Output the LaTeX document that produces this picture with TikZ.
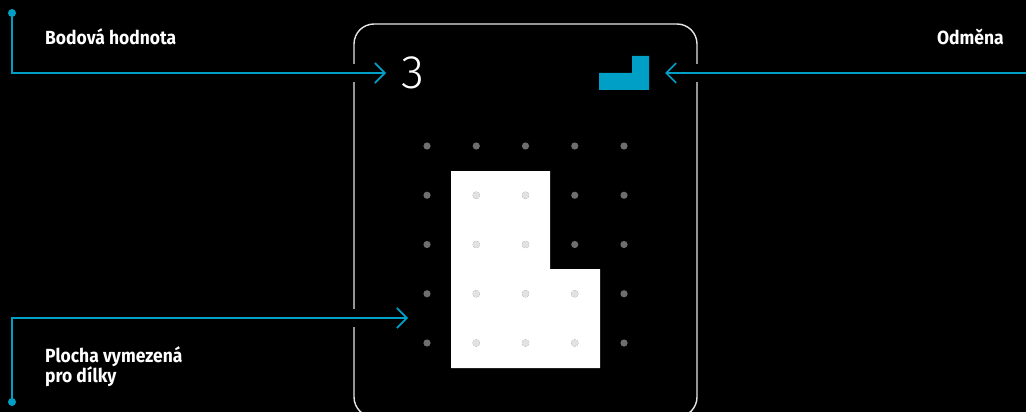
\documentclass[tikz,border=0pt]{standalone}
\usepackage{fontspec}
\setmainfont{Fira Sans}
\newfontfamily\notefont[FakeStretch=0.92]{Fira Sans}
\newfontfamily\scorefont{Fira Sans Light}
\usetikzlibrary{arrows.meta}
\definecolor{pointer}{RGB}{0,160,198}
\definecolor{dotdark}{RGB}{110,110,110}
\definecolor{dotlight}{RGB}{226,226,226}
\definecolor{cardline}{RGB}{230,230,230}

\begin{document}
\begin{tikzpicture}[x=1pt,y=-1pt,
  callout/.style={draw=pointer,line width=1.6pt,
    -{Straight Barb[length=10pt,width=20pt,line width=1.6pt]},
    preaction={draw=black,line width=18pt,-}},
  notetext/.style={text=white,inner sep=0pt,
    font=\notefont\bfseries\fontsize{19}{19}\selectfont},
  anchordot/.style={fill=pointer}]
  % background and page
  \fill[black] (0,0) rectangle (1026,412);
  \useasboundingbox (0,0) rectangle (1026,412);
  \clip (0,0) rectangle (1026,412);

  % card
  \draw[cardline,line width=1.4pt,rounded corners=20pt] (354,24) rectangle (697,417);

  % score and reward
  \node[text=white,inner sep=0pt,anchor=west,
    font=\scorefont\fontsize{47}{47}\selectfont] (score) at (401,73) {3};
  \fill[pointer] (599,73) -- (632,73) -- (632,56) -- (649,56)
    -- (649,90) -- (599,90) -- cycle;
  \coordinate (reward) at (665,73);

  % playing field
  \fill[white] (451,171) -- (550,171) -- (550,269) -- (600,269)
    -- (600,368) -- (451,368) -- cycle;
  \foreach \i in {0,...,4}
    \foreach \j in {0,...,4}
      \fill[dotdark] (427+49.25*\i,146+49.25*\j) circle (3.6);
  \foreach \i/\j in {1/1,2/1,1/2,2/2,1/3,2/3,3/3,1/4,2/4,3/4}
    \fill[dotlight] (427+49.25*\i,146+49.25*\j) circle (3.6);
  \coordinate (field) at (408,318);

  % notes
  \coordinate (dotA) at (12,13);
  \coordinate (dotB) at (12,402);
  \coordinate (edge) at (1026,73);
  \node[notetext,anchor=base west] (points) at (45,45) {Bodová hodnota};
  \node[notetext,anchor=base east] (prize) at (1004,45) {Odměna};
  \node[notetext,anchor=base west,align=left] (area) at (45,382)
    {Plocha vymezená\\[-2pt]pro dílky};

  % connectors
  \draw[callout] (dotA) |- ([xshift=-15pt]score.west);
  \draw[callout] (edge) -- (reward);
  \draw[callout] (dotB) |- (field);
  \fill[anchordot] (dotA) circle (4);
  \fill[anchordot] (dotB) circle (4);
\end{tikzpicture}
\end{document}
